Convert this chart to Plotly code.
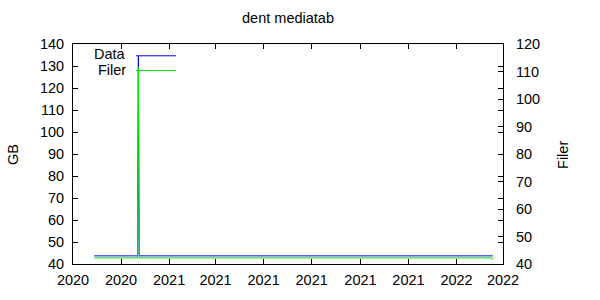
import plotly.graph_objects as go

# Data
data_dates = ["2020-09-28", "2020-11-22", "2020-11-23", "2020-11-24", "2022-02-16"]
data_gb = [43.7, 43.7, 134.6, 43.7, 43.7]

filer_dates = ["2020-09-28", "2020-11-22", "2020-11-23", "2020-11-24", "2022-02-15", "2022-02-16"]
filer_count = [42.2, 42.2, 111.6, 42.2, 42.2, 41.5]

title = "dent mediatab"
y_title = "GB"
y2_title = "Filer"
series_names = ["Data", "Filer"]
colors = ["#0000ff", "#00e600"]

FONT = "Liberation Sans, Arial, sans-serif"
FS = 14.5
L, R, T, B = 73, 97, 44, 32
W, H = 600, 300
PW, PH = W - L - R, H - T - B


def px(x):
    return (x - L) / PW


def py(y):
    return (H - B - y) / PH


fig = go.Figure()
fig.add_trace(go.Scatter(x=data_dates, y=data_gb, mode="lines", name=series_names[0],
                         line=dict(color=colors[0], width=1), yaxis="y"))
fig.add_trace(go.Scatter(x=filer_dates, y=filer_count, mode="lines", name=series_names[1],
                         line=dict(color=colors[1], width=1), yaxis="y2"))

axis_common = dict(showgrid=False, zeroline=False, showline=True, linecolor="black",
                   linewidth=1, ticks="inside", ticklen=5, tickcolor="black", tickwidth=1,
                   tickfont=dict(family=FONT, size=FS, color="black"))

fig.update_layout(
    width=W, height=H,
    margin=dict(l=L, r=R, t=T, b=B, pad=0),
    paper_bgcolor="white", plot_bgcolor="white",
    showlegend=False,
    font=dict(family=FONT, size=FS, color="black"),
    title=dict(text=title, x=288 / W, xref="container", xanchor="center",
               y=1 - 18 / H, yref="container", yanchor="middle",
               font=dict(family=FONT, size=FS)),
    xaxis=dict(**axis_common, mirror="ticks", type="date",
               range=["2020-09-01", "2022-03-01"], tick0="2020-09-01", dtick="M2",
               tickformat="%Y", ticklabelstandoff=3),
    yaxis=dict(**axis_common, mirror="ticks", range=[40, 140], dtick=10, ticklabelstandoff=5),
    yaxis2=dict(**axis_common, overlaying="y", side="right", range=[40, 120], dtick=10,
                ticklabelstandoff=9),
)

annotations = [
    dict(text=y_title, x=13, y=157, textangle=-90),
    dict(text=y2_title, x=563, y=157, textangle=-90),
    dict(text=series_names[0], x=128, y=54, xanchor="right"),
    dict(text=series_names[1], x=128, y=70, xanchor="right"),
]
for a in annotations:
    fig.add_annotation(text=a["text"], x=px(a["x"]), y=py(a["y"]),
                       xref="paper", yref="paper", showarrow=False,
                       xanchor=a.get("xanchor", "center"), yanchor="middle",
                       textangle=a.get("textangle", 0),
                       font=dict(family=FONT, size=FS, color="black"))

# legend sample lines
for c, yy in zip(colors, [56, 71]):
    fig.add_shape(type="line", xref="paper", yref="paper",
                  x0=px(136), x1=px(176), y0=py(yy), y1=py(yy),
                  line=dict(color=c, width=1))

fig.write_html("out.html")
